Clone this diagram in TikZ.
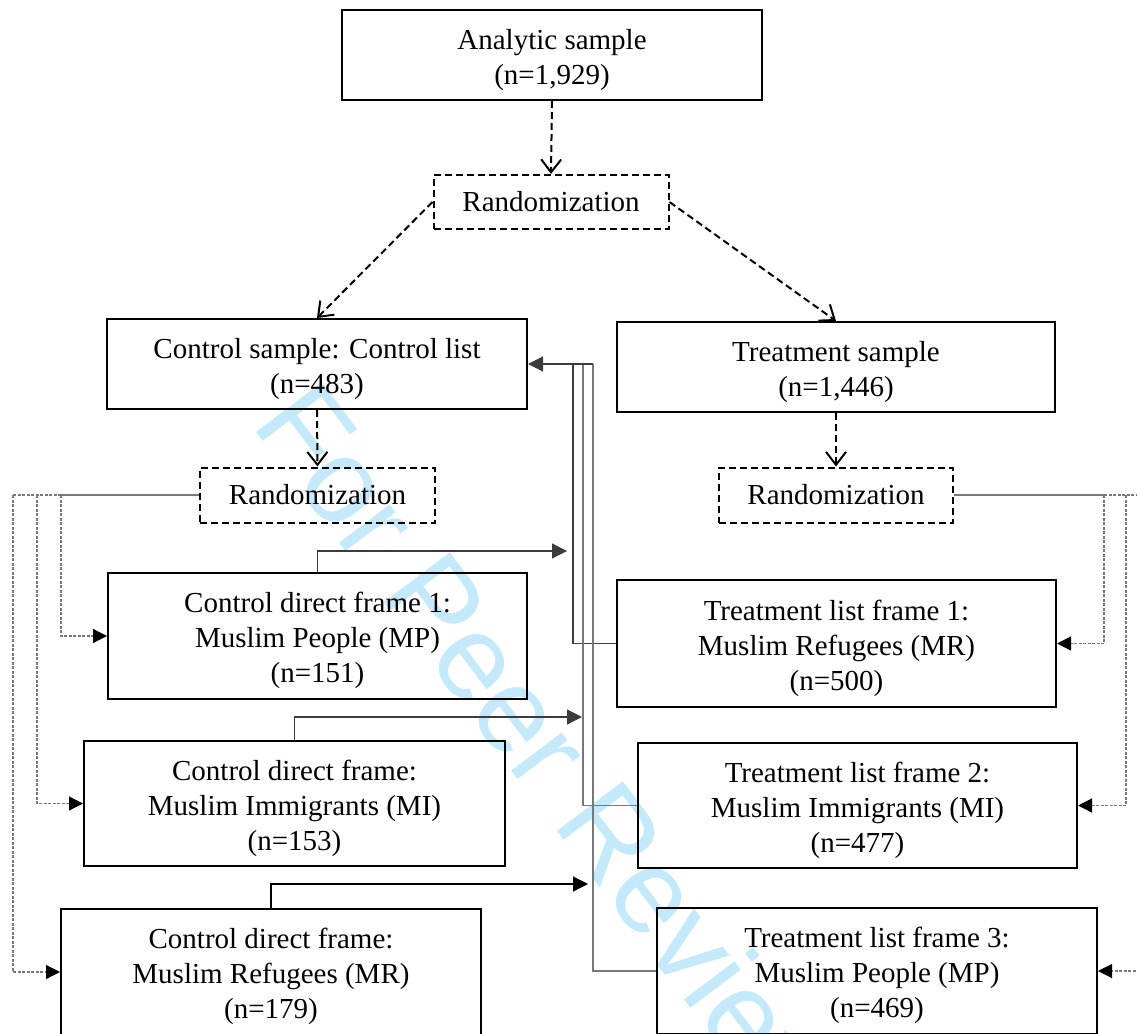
\documentclass[tikz,border=0pt]{standalone}
\usepackage{fontspec}
\setmainfont{Liberation Serif}
\newfontfamily\wmfont{Liberation Sans}
\usetikzlibrary{arrows.meta}
\definecolor{wmblue}{RGB}{196,233,250}
\definecolor{lgray}{RGB}{120,120,120}
\definecolor{dgray}{RGB}{60,60,60}
\newcommand{\tstrut}{\rule{0pt}{30pt}}
\begin{document}
\begin{tikzpicture}[x=1pt,y=-1pt,
 txt/.style={font=\fontsize{29}{35}\selectfont, align=center, inner sep=0pt},
 solidbox/.style={txt, draw, line width=2pt},
 dashbox/.style={txt, draw, line width=2pt, dash pattern=on 7pt off 4pt},
 darr/.style={line width=2pt, dash pattern=on 7pt off 4pt, -{Straight Barb[length=13pt,width=20pt,line width=2pt]}},
 sarr/.style={line width=1.2pt, -{Triangle[length=15pt,width=15pt]}},
 gline/.style={line width=1.2pt, draw=lgray},
 gdash/.style={line width=1.2pt, draw=lgray, dash pattern=on 3pt off 1.5pt},
 garr/.style={gdash, -{Triangle[length=14pt,width=14pt,color=black]}},
]
\useasboundingbox (0,0) rectangle (1137,1033);
\clip (0,0) rectangle (1137,1033);

% watermark
\node[font=\wmfont\fontsize{120}{120}\selectfont, text=wmblue, rotate=-53, anchor=base west, inner sep=0pt] (wm) at (250,424) {For Peer Review};

% boxes
\node[solidbox, minimum width=420pt, minimum height=90pt] (ana) at (552,55) {\tstrut Analytic sample\\(n=1,929)};
\node[dashbox, minimum width=235pt, minimum height=54pt] (rand0) at (551,202) {Randomization};
\node[solidbox, minimum width=420pt, minimum height=90pt] (cs) at (317,364) {\tstrut Control sample: Control list\\(n=483)};
\node[solidbox, minimum width=438pt, minimum height=90pt] (ts) at (836,367) {\tstrut Treatment sample\\(n=1,446)};
\node[dashbox, minimum width=235pt, minimum height=55pt] (randL) at (317.5,495) {Randomization};
\node[dashbox, minimum width=234pt, minimum height=55pt] (randR) at (836,495) {Randomization};
\node[solidbox, minimum width=419pt, minimum height=126pt] (cdf1) at (317.5,636) {\tstrut Control direct frame 1:\\Muslim People (MP)\\(n=151)};
\node[solidbox, minimum width=439pt, minimum height=127pt] (tlf1) at (836.5,643.5) {\tstrut Treatment list frame 1:\\Muslim Refugees (MR)\\(n=500)};
\node[solidbox, minimum width=421pt, minimum height=125pt] (cdf2) at (294.5,803.5) {\tstrut Control direct frame:\\Muslim Immigrants (MI)\\(n=153)};
\node[solidbox, minimum width=439pt, minimum height=125pt] (tlf2) at (857.5,805.5) {\tstrut Treatment list frame 2:\\Muslim Immigrants (MI)\\(n=477)};
\node[solidbox, minimum width=420pt, minimum height=126pt] (cdf3) at (271,972) {\tstrut Control direct frame:\\Muslim Refugees (MR)\\(n=179)};
\node[solidbox, minimum width=440pt, minimum height=126pt] (tlf3) at (877,971) {\tstrut Treatment list frame 3:\\Muslim People (MP)\\(n=469)};

% dashed top connectors
\draw[darr] (ana.south) -- (rand0.north);
\draw[darr] (rand0.west) -- (cs.north);
\draw[darr] (rand0.east) -- (ts.north);
\draw[darr] (cs.south) -- (randL.north);
\draw[darr] (ts.south) -- (randR.north);

% middle solid connectors
\coordinate (m1) at (573,364);
\coordinate (m2) at (583,364);
\coordinate (m3) at (593,364);
\draw[line width=1.2pt, draw=dgray] (tlf1.west) -| (m1);
\draw[gline] (tlf2.west) -| (m2);
\draw[gline] (tlf3.west) -| (m3);
\draw[sarr, draw=dgray] (m3) -- (cs.east);

\coordinate (e1) at (567,551);
\coordinate (e2) at (582,717);
\coordinate (e3) at (588,884);
\draw[sarr, draw=dgray] (cdf1.north) |- (e1);
\draw[sarr, draw=dgray] (cdf2.north) |- (e2);
\draw[sarr, draw=black] (cdf3.north) |- (e3);

% left randomization branches
\coordinate (l1) at (61,495);
\coordinate (l2) at (37,495);
\coordinate (l3) at (13,495);
\draw[gline] (randL.west) -- (l1);
\draw[gdash] (l1) -- (l3);
\draw[garr] (l1) |- (cdf1.west);
\draw[garr] (l2) |- (cdf2.west);
\draw[garr] (l3) |- (cdf3.west);

% right randomization branches
\coordinate (r1) at (1104,495);
\coordinate (r2) at (1126,495);
\coordinate (r3) at (1150,495);
\draw[gline] (randR.east) -- (r1);
\draw[gdash] (r1) -- (r3);
\draw[garr] (r1) |- (tlf1.east);
\draw[garr] (r2) |- (tlf2.east);
\draw[garr] (r3) |- (tlf3.east);
\end{tikzpicture}
\end{document}
